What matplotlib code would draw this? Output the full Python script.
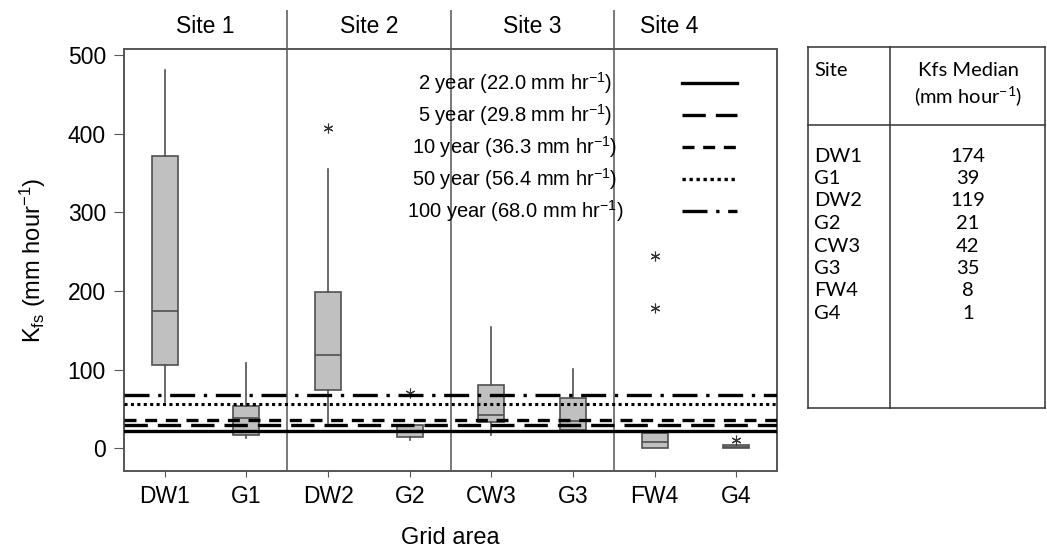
import matplotlib
matplotlib.use('Agg')
import matplotlib.pyplot as plt
from matplotlib.lines import Line2D

plt.rcParams['font.family'] = ['Liberation Sans', 'DejaVu Sans']
plt.rcParams['mathtext.default'] = 'regular'

# box plot values (mm hour-1)
grids = ['DW1', 'G1', 'DW2', 'G2', 'CW3', 'G3', 'FW4', 'G4']
whis_lo = [59, 13, 32, 11, 16.5, 22, 0, 0.5]
q1 = [106.5, 16.5, 74, 14, 33, 23, 0, 0.5]
medians = [174, 39, 119, 21, 42, 35, 8, 1]
q3 = [372, 54, 199, 29, 81, 64.5, 19.5, 4]
whis_hi = [481, 108, 355, 29, 154, 101, 19.5, 4]
outliers = [[], [], [407], [70], [], [], [245, 178], [10]]

sites = ['Site 1', 'Site 2', 'Site 3', 'Site 4']
site_label_x = [0.5, 2.5, 4.5, 6.18]
site_dividers = [1.5, 3.5, 5.5]

# design storm intensities
storm_labels = ['2 year (22.0 mm hr$^{-1}$)', '5 year (29.8 mm hr$^{-1}$)',
                '10 year (36.3 mm hr$^{-1}$)', '50 year (56.4 mm hr$^{-1}$)',
                '100 year (68.0 mm hr$^{-1}$)']
storm_values = [22.0, 29.8, 36.3, 56.4, 68.0]
storm_dashes = [None, (7, 3), (3.6, 2.6), (1, 1.1), (7.5, 2.6, 1, 2.6)]

W, H = 1047, 560
fig = plt.figure(figsize=(W / 100, H / 100), dpi=100)
ax = fig.add_axes([124 / W, 89 / H, 653 / W, 422 / H])

stats = []
for i, g in enumerate(grids):
    stats.append({'label': g, 'whislo': whis_lo[i], 'q1': q1[i], 'med': medians[i],
                  'q3': q3[i], 'whishi': whis_hi[i], 'fliers': outliers[i]})

ax.bxp(stats, positions=range(len(grids)), widths=0.32, patch_artist=True,
       showcaps=False,
       boxprops=dict(facecolor='#c0c0c0', edgecolor='#505050', linewidth=1.2),
       medianprops=dict(color='#505050', linewidth=1.2),
       whiskerprops=dict(color='#505050', linewidth=1.2),
       flierprops=dict(marker=(6, 2, 0), markersize=7, markeredgecolor='#333333',
                       markeredgewidth=0.8, linestyle='none'))

# storm lines
for val, dash in zip(storm_values, storm_dashes):
    ln = ax.axhline(val, color='black', linewidth=2.4, zorder=3)
    if dash is not None:
        ln.set_dashes(dash)
        if dash == (1, 1.1):
            ln.set_linewidth(2.2)

ax.set_xlim(-0.5, 7.5)
ax.set_ylim(-29, 508)
ax.set_yticks([0, 100, 200, 300, 400, 500])
ax.set_xticks(range(len(grids)))
ax.set_xticklabels(grids)
ax.tick_params(axis='y', labelsize=16.5, direction='out', length=7, color='#555555', pad=6)
ax.tick_params(axis='x', labelsize=16.5, direction='out', length=4, color='#555555', pad=6)
for s in ax.spines.values():
    s.set_color('#555555')
    s.set_linewidth(1.4)

ax.set_ylabel('K$_{fs}$ (mm hour$^{-1}$)', fontsize=17, labelpad=14)
ax.set_xlabel('Grid area', fontsize=17, labelpad=14)

# site dividers and labels above the frame
ax.vlines(site_dividers, -29, 558, color='#555555', linewidth=1.1, clip_on=False)
for name, x in zip(sites, site_label_x):
    ax.text(x, 537, name, ha='center', va='center', fontsize=16.5)

# overlay in pixel coordinates for the legend and the table
ov = fig.add_axes([0, 0, 1, 1], facecolor='none')
ov.set_xlim(0, W)
ov.set_ylim(H, 0)
ov.axis('off')

legend_rows = [83, 115, 147, 179, 211]
for lab, dash, y in zip(storm_labels, storm_dashes, legend_rows):
    ov.text(515, y, lab, ha='center', va='center', fontsize=14.5)
    ln = Line2D([682, 737], [y, y], color='black', linewidth=2.4)
    if dash is not None:
        ln.set_dashes(dash)
    ov.add_line(ln)

# table of medians
tl, tm, tr = 808, 890, 1045
tt, th, tb = 47, 125, 408
for x0, y0, x1, y1 in [(tl, tt, tr, tt), (tl, tb, tr, tb), (tl, th, tr, th),
                       (tl, tt, tl, tb), (tm, tt, tm, tb), (tr, tt, tr, tb)]:
    ov.add_line(Line2D([x0, x1], [y0, y1], color='#333333', linewidth=1.1))

tfont = ['Lato', 'DejaVu Sans']
tsize = 14.5
ov.text(814, 70, 'Site', ha='left', va='center', fontsize=tsize, family=tfont)
ov.text(968, 70, 'Kfs Median', ha='center', va='center', fontsize=tsize, family=tfont)
ov.text(968, 96, '(mm hour$^{-1}$)', ha='center', va='center', fontsize=tsize, family=tfont)
row_y0, row_dy = 156, 22.5
for i, (g, m) in enumerate(zip(grids, medians)):
    y = row_y0 + i * row_dy
    ov.text(814, y, g, ha='left', va='center', fontsize=tsize, family=tfont)
    ov.text(968, y, str(m), ha='center', va='center', fontsize=tsize, family=tfont)

fig.savefig('out.png', dpi=100)
